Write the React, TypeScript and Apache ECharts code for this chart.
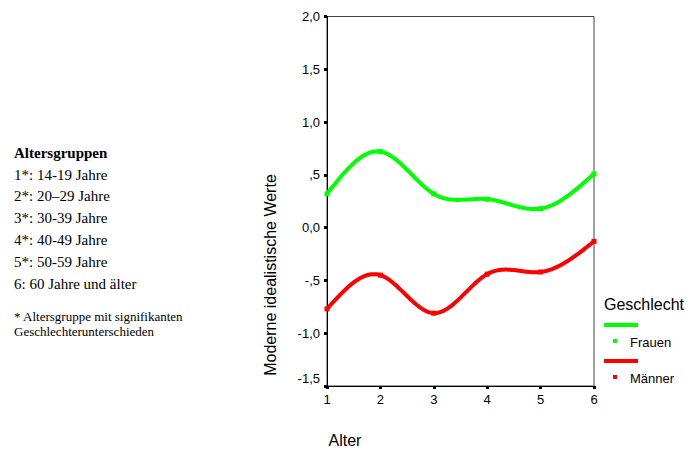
import React, { useEffect, useRef } from "react";
import * as echarts from "echarts";

const ageGroups = [1, 2, 3, 4, 5, 6];
const frauen = [0.32, 0.72, 0.32, 0.27, 0.18, 0.51];
const maenner = [-0.77, -0.45, -0.81, -0.44, -0.42, -0.13];
const yTicks = [-1.5, -1, -0.5, 0, 0.5, 1, 1.5, 2];
const legendTitle = "Geschlecht";
const seriesNames = ["Frauen", "Männer"];
const seriesColors = ["#00ff00", "#ff0000"];
const noteTitle = "Altersgruppen";
const noteLines = [
  "1*: 14-19 Jahre",
  "2*: 20–29 Jahre",
  "3*: 30-39 Jahre",
  "4*: 40-49 Jahre",
  "5*: 50-59 Jahre",
  "6: 60 Jahre und älter",
];
const footLines = ["* Altersgruppe mit signifikanten", "Geschlechterunterschieden"];
const yAxisTitle = "Moderne idealistische Werte";
const xAxisTitle = "Alter";

function fmtY(v: number): string {
  let s = v.toFixed(1).replace(".", ",");
  if (s === "0,5") s = ",5";
  if (s === "-0,5") s = "-,5";
  return s;
}

// natural cubic spline second derivatives
function splineM(xs: number[], ys: number[]): number[] {
  const n = xs.length;
  const M = new Array(n).fill(0);
  if (n < 3) return M;
  const h: number[] = [];
  for (let i = 0; i < n - 1; i++) h.push(xs[i + 1] - xs[i]);
  const a: number[] = [], b: number[] = [], c: number[] = [], d: number[] = [];
  for (let i = 1; i < n - 1; i++) {
    a.push(h[i - 1]);
    b.push(2 * (h[i - 1] + h[i]));
    c.push(h[i]);
    d.push(6 * ((ys[i + 1] - ys[i]) / h[i] - (ys[i] - ys[i - 1]) / h[i - 1]));
  }
  const m = b.length;
  for (let i = 1; i < m; i++) {
    const w = a[i] / b[i - 1];
    b[i] -= w * c[i - 1];
    d[i] -= w * d[i - 1];
  }
  const sol = new Array(m).fill(0);
  sol[m - 1] = d[m - 1] / b[m - 1];
  for (let i = m - 2; i >= 0; i--) sol[i] = (d[i] - c[i] * sol[i + 1]) / b[i];
  for (let i = 0; i < m; i++) M[i + 1] = sol[i];
  return M;
}

function makeRender(xs: number[], ys: number[], color: string) {
  const M = splineM(xs, ys);
  return (params: any, api: any) => {
    const i = params.dataIndex;
    const children: any[] = [];
    if (i < xs.length - 1) {
      const h = xs[i + 1] - xs[i];
      const pts: number[][] = [];
      const steps = 30;
      for (let k = 0; k <= steps; k++) {
        const x = xs[i] + (h * k) / steps;
        const A = (xs[i + 1] - x) / h;
        const B = (x - xs[i]) / h;
        const y =
          A * ys[i] +
          B * ys[i + 1] +
          ((A * A * A - A) * M[i] + (B * B * B - B) * M[i + 1]) * (h * h) / 6;
        pts.push(api.coord([x, y]));
      }
      children.push({
        type: "polyline",
        shape: { points: pts },
        style: { stroke: color, lineWidth: 4, fill: "none", lineJoin: "round", lineCap: "round" },
      });
    }
    const p = api.coord([api.value(0), api.value(1)]);
    children.push({
      type: "rect",
      shape: { x: p[0] - 2.5, y: p[1] - 2.5, width: 5, height: 5 },
      style: { fill: color },
    });
    return { type: "group", children };
  };
}

export default function App() {
  const ref = useRef<HTMLDivElement>(null);
  useEffect(() => {
    if (!ref.current) return;
    const chart = echarts.init(ref.current, null, { renderer: "svg" });
    const sans = "Liberation Sans, Arial, sans-serif";
    const serif = "Liberation Serif, Times New Roman, serif";
    const graphics: any[] = [];
    graphics.push({
      type: "text",
      left: 14,
      top: 145,
      style: { text: noteTitle, font: `bold 15px ${serif}`, fill: "#000" },
    });
    noteLines.forEach((t, i) => {
      graphics.push({
        type: "text",
        left: 14,
        top: 167 + i * 21.8,
        style: { text: t, font: `15px ${serif}`, fill: "#000" },
      });
    });
    footLines.forEach((t, i) => {
      graphics.push({
        type: "text",
        left: 14,
        top: 310 + i * 14.5,
        style: { text: t, font: `13px ${serif}`, fill: "#000" },
      });
    });
    graphics.push({
      type: "text",
      x: 270,
      y: 275,
      rotation: Math.PI / 2,
      style: {
        text: yAxisTitle,
        font: `16px ${sans}`,
        fill: "#000",
        align: "center",
        verticalAlign: "middle",
      },
    });
    graphics.push({
      type: "text",
      x: 345,
      y: 440,
      style: {
        text: xAxisTitle,
        font: `16px ${sans}`,
        fill: "#000",
        align: "center",
        verticalAlign: "middle",
      },
    });
    graphics.push({
      type: "text",
      x: 604,
      y: 304,
      style: { text: legendTitle, font: `16px ${sans}`, fill: "#000", verticalAlign: "middle" },
    });
    seriesNames.forEach((n, i) => {
      const y0 = 325 + i * 36;
      graphics.push({
        type: "line",
        shape: { x1: 604, y1: y0, x2: 638, y2: y0 },
        style: { stroke: seriesColors[i], lineWidth: 4 },
      });
      graphics.push({
        type: "rect",
        shape: { x: 613, y: y0 + 14, width: 4, height: 4 },
        style: { fill: seriesColors[i] },
      });
      graphics.push({
        type: "text",
        x: 630,
        y: y0 + 17.5,
        style: { text: n, font: `13px ${sans}`, fill: "#000", verticalAlign: "middle" },
      });
    });

    const mk = (name: string, vals: number[], color: string) => ({
      name,
      type: "custom",
      coordinateSystem: "cartesian2d",
      data: ageGroups.map((x, i) => [x, vals[i]]),
      encode: { x: 0, y: 1 },
      clip: false,
      renderItem: makeRender(ageGroups, vals, color),
    });

    chart.setOption({
      animation: false,
      grid: {
        left: 327,
        right: 99,
        top: 16.5,
        bottom: 65,
        show: true,
        borderColor: "#444",
        borderWidth: 1,
      },
      xAxis: {
        type: "value",
        min: 1,
        max: 6,
        interval: 1,
        splitLine: { show: false },
        axisLine: { onZero: false, lineStyle: { color: "#000", width: 1 } },
        axisTick: { length: 3, lineStyle: { color: "#000", width: 3 } },
        axisLabel: { margin: 7, fontFamily: sans, fontSize: 13, color: "#000" },
      },
      yAxis: {
        type: "value",
        min: -1.5,
        max: 2,
        interval: 0.5,
        splitLine: { show: false },
        axisLine: { onZero: false, lineStyle: { color: "#000", width: 1 } },
        axisTick: { length: 3, lineStyle: { color: "#000", width: 3 } },
        axisLabel: {
          margin: 7,
          fontFamily: sans,
          fontSize: 13,
          color: "#000",
          formatter: (v: number) => (Math.abs(v - yTicks[0]) < 1e-9 ? `{low|${fmtY(v)}}` : fmtY(v)),
          rich: { low: { fontFamily: sans, fontSize: 13, color: "#000", padding: [0, 0, 16, 0] } },
        },
      },
      series: [mk(seriesNames[0], frauen, seriesColors[0]), mk(seriesNames[1], maenner, seriesColors[1])],
      graphic: graphics,
    });
    return () => chart.dispose();
  }, []);
  return (
    <div
      ref={ref}
      style={{ position: "fixed", left: 0, top: 0, width: 693, height: 451, background: "#fff" }}
    />
  );
}
